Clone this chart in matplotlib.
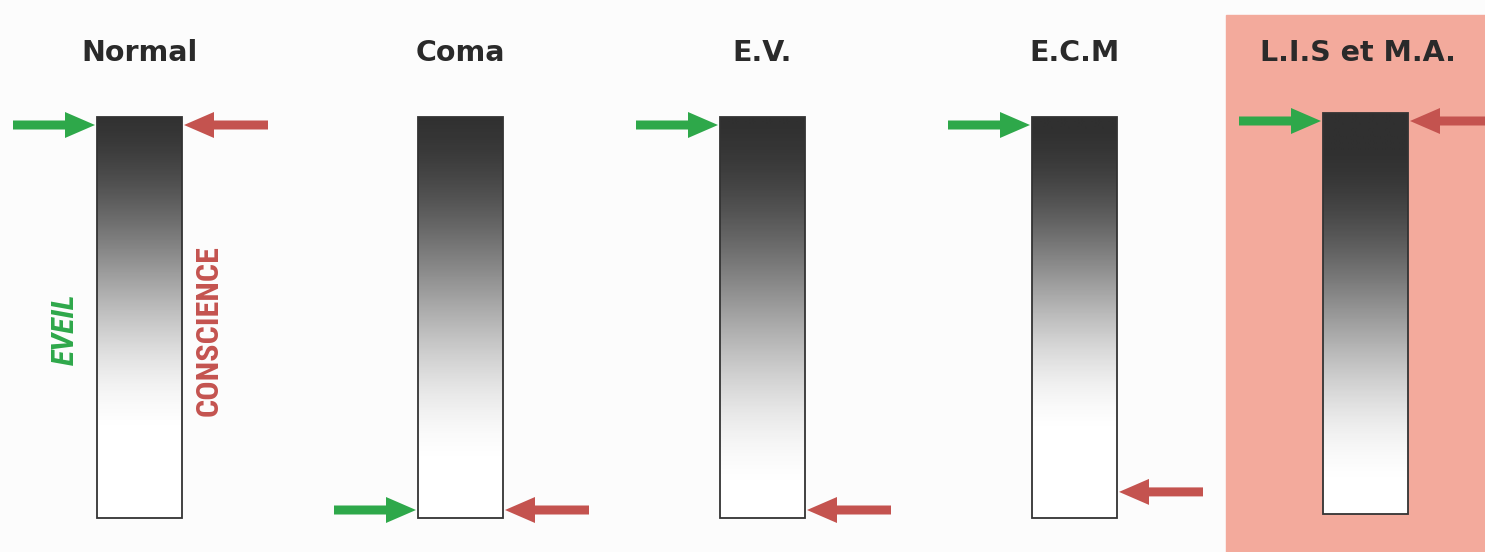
import numpy as np
import matplotlib.pyplot as plt
from matplotlib.patches import Rectangle, FancyArrow
from matplotlib.colors import LinearSegmentedColormap
from matplotlib import font_manager

# data: level of arousal (eveil) and awareness (conscience), 1 = top of the bar, 0 = bottom
categories = ["Normal", "Coma", "E.V.", "E.C.M", "L.I.S et M.A."]
eveil = [1.0, 0.0, 1.0, 1.0, 1.0]
conscience = [1.0, 0.0, 0.0, 0.047, 1.0]
highlight = [False, False, False, False, True]

# layout (pixels)
W, H = 1485, 552
bar_left = [97, 418, 720, 1032, 1323]
bar_top = [117, 117, 117, 117, 113]
bar_w, bar_h = 85, 401
# where the dark->white fade starts / ends along each bar (0 top, 1 bottom)
fade = [(-0.05, 0.80), (-0.04, 0.88), (-0.02, 0.94), (0.0, 0.80), (0.06, 0.94)]
GREEN = "#2ea84a"
RED = "#c4534f"
PINK = "#f3aa9c"

names = {f.name for f in font_manager.fontManager.ttflist}
narrow = [n for n in ["Liberation Sans Narrow", "DejaVu Sans Condensed",
                      "Roboto Condensed", "Open Sans Condensed"] if n in names]
narrow = narrow[0] if narrow else "Liberation Sans"

fig = plt.figure(figsize=(W / 100, H / 100), dpi=100)
fig.patch.set_facecolor("#fcfcfc")
ax = fig.add_axes([0, 0, 1, 1])
ax.set_xlim(0, W)
ax.set_ylim(H, 0)
ax.axis("off")

ax.add_patch(Rectangle((1226, 15), W - 1226, H - 15, color=PINK, zorder=0))

cmap = LinearSegmentedColormap.from_list("g", ["#303030", "#ffffff"])
t = np.linspace(0, 1, 400)

for i, name in enumerate(categories):
    x0, y0 = bar_left[i], bar_top[i]
    cx = x0 + bar_w / 2
    a, b = fade[i]
    u = np.clip((t - a) / (b - a), 0, 1)
    s = u * u * (3 - 2 * u)  # smooth ease in/out
    img = np.tile(s[:, None], (1, 20))
    ax.imshow(img, cmap=cmap, vmin=0, vmax=1, aspect="auto",
              extent=(x0, x0 + bar_w, y0 + bar_h, y0), zorder=2,
              interpolation="bilinear")
    ax.add_patch(Rectangle((x0, y0), bar_w, bar_h, fill=False,
                           ec="#333333", lw=1.3, zorder=3))
    ax.text(cx + (0 if i < 4 else -8), 53, name, ha="center", va="center",
            fontsize=20.5, fontweight="bold", family="DejaVu Sans",
            color="#2a2a2a")

    top_y = y0 + 8
    bot_y = y0 + bar_h - 8
    gy = bot_y + eveil[i] * (top_y - bot_y)
    ry = bot_y + conscience[i] * (top_y - bot_y)
    ax.add_patch(FancyArrow(x0 - 84, gy, 82, 0, width=9, head_width=26,
                            head_length=30, length_includes_head=True,
                            color=GREEN, lw=0, zorder=4))
    ax.add_patch(FancyArrow(x0 + bar_w + 86, ry, -84, 0, width=9,
                            head_width=26, head_length=30,
                            length_includes_head=True, color=RED, lw=0,
                            zorder=4))

ax.text(65, 329, "EVEIL", rotation=90, ha="center", va="center",
        fontsize=23, style="italic", fontweight="bold", family=narrow,
        color=GREEN)
ax.text(209, 331, "CONSCIENCE", rotation=90, ha="center", va="center",
        fontsize=23, fontweight="bold", family=narrow, color=RED)

fig.savefig("out.png", dpi=100, facecolor=fig.get_facecolor())
